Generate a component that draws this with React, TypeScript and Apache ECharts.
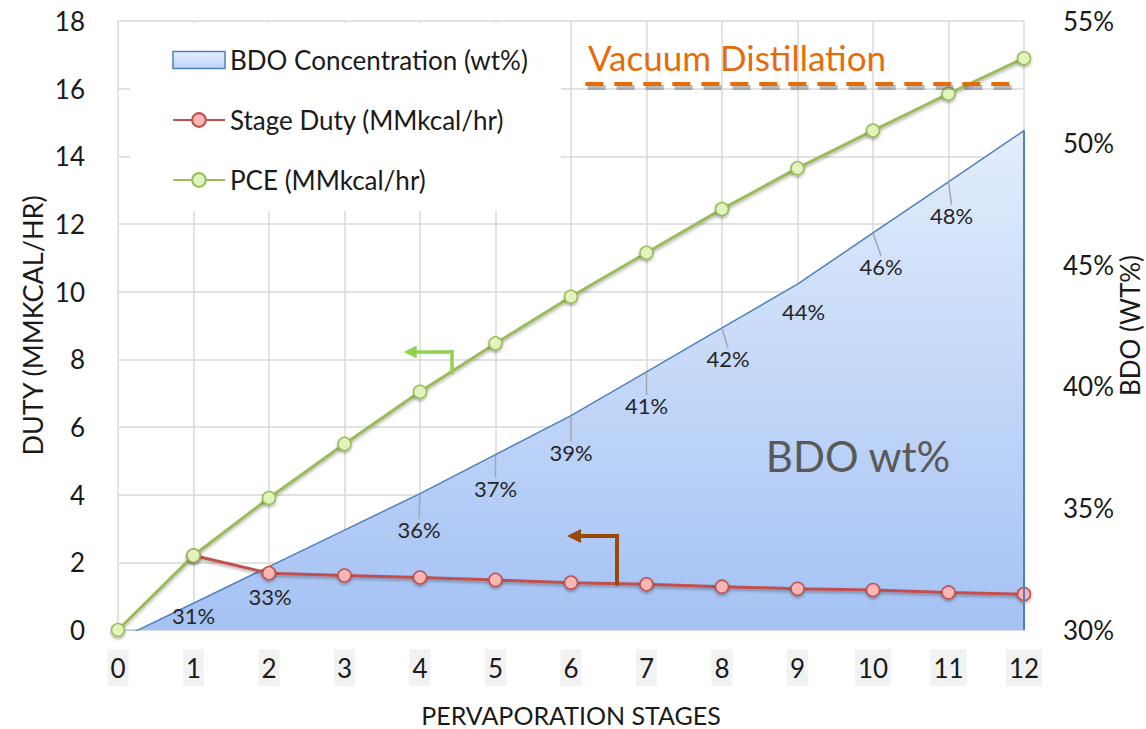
import React, { useEffect, useRef } from 'react';
import * as echarts from 'echarts';

// ---------- data ----------
const stages = [0, 1, 2, 3, 4, 5, 6, 7, 8, 9, 10, 11, 12];
const bdoConcentration = [29.6, 31.1, 32.6, 34.1, 35.6, 37.2, 38.8, 40.6, 42.4, 44.2, 46.3, 48.4, 50.5];
const bdoLabelShown = [false, true, true, false, true, true, true, true, true, true, true, true, false];
const bdoLeaderShown = [false, false, false, false, true, true, true, true, true, false, true, true, false];

const dutyStages = [1, 2, 3, 4, 5, 6, 7, 8, 9, 10, 11, 12];
const stageDuty = [2.2, 1.68, 1.61, 1.55, 1.48, 1.4, 1.35, 1.28, 1.22, 1.18, 1.11, 1.06];

const pceStages = [0, 1, 2, 3, 4, 5, 6, 7, 8, 9, 10, 11, 12];
const pce = [0, 2.2, 3.9, 5.5, 7.04, 8.47, 9.85, 11.15, 12.44, 13.65, 14.76, 15.85, 16.9];

const leftAxis = { min: 0, max: 18, interval: 2 };
const rightAxis = { min: 30, max: 55, interval: 5 };
const xAxisRange = { min: 0, max: 12, interval: 1 };

// annotation anchors (data coordinates)
const vacuumLine = { y: 16.15, shadowY: 16.05, x0: 6.19, x1: 11.95 };
const greenArrow = { x: 4.42, y0: 7.61, y1: 8.22, x2: 3.87 };
const brownArrow = { x: 6.61, y0: 1.37, y1: 2.78, x2: 6.04 };

// label offsets (style only)
const LABEL_DX = [0, 0, 1, 0, -1, 0, 0, 0, 6, 6, 8, 3, 0];
const LABEL_DY = [0, 12, 30, 0, 36, 34, 37, 34, 31, 27, 34, 34, 0];

const FONT = 'Lato';
const TXT = '#1a1a1a';
const GRID_C = '#D9D9D9';

export default function App() {
  const ref = useRef<HTMLDivElement>(null);

  useEffect(() => {
    if (!ref.current) return;
    const chart = echarts.init(ref.current, undefined, { renderer: 'svg' });

    const areaGradient = new echarts.graphic.LinearGradient(0, 0, 0, 1, [
      { offset: 0, color: '#E3EDFC' },
      { offset: 1, color: '#A3C1F4' },
    ]);
    const legendGradient = new echarts.graphic.LinearGradient(0, 0, 0, 1, [
      { offset: 0, color: '#E6EFFD' },
      { offset: 1, color: '#BCD2F8' },
    ]);

    const shadow = { shadowColor: 'rgba(0,0,0,0.3)', shadowBlur: 3, shadowOffsetY: 2 };

    const option: any = {
      animation: false,
      textStyle: { fontFamily: FONT },
      grid: { left: 118, right: 122, top: 21, bottom: 99, containLabel: false, outerBoundsMode: 'none' },
      legend: {
        orient: 'vertical',
        left: 130,
        top: 23,
        backgroundColor: '#ffffff',
        padding: [24, 33, 18, 42],
        itemWidth: 52,
        itemHeight: 17,
        itemGap: 34,
        selectedMode: false,
        textStyle: { fontSize: 26, color: TXT, fontFamily: FONT },
        data: [
          {
            name: 'BDO Concentration (wt%)',
            icon: 'rect',
            itemStyle: { color: legendGradient, borderColor: '#4F81BD', borderWidth: 1.5 },
          },
          { name: 'Stage Duty (MMkcal/hr)' },
          { name: 'PCE (MMkcal/hr)' },
        ],
      },
      xAxis: {
        type: 'value',
        min: xAxisRange.min,
        max: xAxisRange.max,
        interval: xAxisRange.interval,
        name: 'PERVAPORATION STAGES',
        nameLocation: 'middle',
        nameGap: 72,
        nameMoveOverlap: false,
        nameTextStyle: { fontSize: 25, color: TXT, fontFamily: FONT },
        axisLine: { show: true, lineStyle: { color: GRID_C, width: 1.5 } },
        axisTick: { show: false },
        axisLabel: {
          margin: 19,
          fontSize: 26,
          color: TXT,
          fontFamily: FONT,
          backgroundColor: '#F2F2F2',
          padding: [3, 3, 2, 3],
          lineHeight: 32,
        },
        splitLine: { show: true, lineStyle: { color: GRID_C, width: 1.5 } },
      },
      yAxis: [
        {
          type: 'value',
          min: leftAxis.min,
          max: leftAxis.max,
          interval: leftAxis.interval,
          name: 'DUTY (MMKCAL/HR)',
          nameLocation: 'middle',
          nameGap: 72,
          nameRotate: 90,
          nameMoveOverlap: false,
          nameTextStyle: { fontSize: 27, color: TXT, fontFamily: FONT },
          axisLine: { show: false },
          axisTick: { show: false },
          axisLabel: { margin: 33, fontSize: 26, color: TXT, fontFamily: FONT },
          splitLine: { show: true, lineStyle: { color: GRID_C, width: 1.5 } },
        },
        {
          type: 'value',
          position: 'right',
          min: rightAxis.min,
          max: rightAxis.max,
          interval: rightAxis.interval,
          name: 'BDO (WT%)',
          nameLocation: 'middle',
          nameGap: 93,
          nameRotate: 90,
          nameMoveOverlap: false,
          nameTextStyle: { fontSize: 26, color: TXT, fontFamily: FONT },
          axisLine: { show: false },
          axisTick: { show: false },
          axisLabel: { margin: 39, fontSize: 26, color: TXT, fontFamily: FONT, formatter: '{value}%' },
          splitLine: { show: false },
        },
      ],
      series: [
        {
          name: 'BDO Concentration (wt%)',
          type: 'line',
          yAxisIndex: 1,
          z: 1,
          clip: true,
          symbol: 'circle',
          symbolSize: 1,
          showSymbol: true,
          showAllSymbol: true,
          itemStyle: { color: 'rgba(0,0,0,0)', borderWidth: 0 },
          lineStyle: { color: '#4F81BD', width: 1.5 },
          areaStyle: { color: areaGradient, opacity: 1 },
          data: stages.map((s, i) => ({
            value: [s, bdoConcentration[i]],
            label: { show: bdoLabelShown[i] },
            labelLine: { show: bdoLeaderShown[i] },
          })),
          label: {
            show: false,
            position: 'inside',
            fontSize: 22,
            fontFamily: FONT,
            color: '#262626',
            padding: [9, 0, 0, 0],
            formatter: (p: any) => Math.round(p.value[1]) + '%',
          },
          labelLine: { show: false, lineStyle: { color: '#A6A6A6', width: 1.5 } },
          labelLayout: (p: any) => ({ dx: LABEL_DX[p.dataIndex], dy: LABEL_DY[p.dataIndex] }),
          markLine: {
            silent: true,
            symbol: ['none', 'none'],
            label: { show: false },
            lineStyle: { color: '#4F81BD', width: 2, type: 'solid' },
            data: [[{ coord: [stages[stages.length - 1], rightAxis.min] }, { coord: [stages[stages.length - 1], bdoConcentration[bdoConcentration.length - 1]] }]],
          },
        },
        {
          name: 'Stage Duty (MMkcal/hr)',
          type: 'line',
          z: 3,
          symbol: 'circle',
          symbolSize: 13,
          showAllSymbol: true,
          itemStyle: { color: '#F8B6B4', borderColor: '#C0504D', borderWidth: 1.5, ...shadow },
          lineStyle: { color: '#C0504D', width: 3, ...shadow },
          data: dutyStages.map((s, i) => [s, stageDuty[i]]),
          markLine: {
            silent: true,
            symbol: ['none', 'none'],
            label: { show: false },
            data: [
              [
                { coord: [brownArrow.x, brownArrow.y0], lineStyle: { color: '#984807', width: 4, type: 'solid', cap: 'square' } },
                { coord: [brownArrow.x, brownArrow.y1] },
              ],
              [
                { coord: [brownArrow.x, brownArrow.y1], lineStyle: { color: '#984807', width: 4, type: 'solid', cap: 'square' } },
                { coord: [brownArrow.x2, brownArrow.y1], symbol: 'triangle', symbolSize: [14, 14] },
              ],
            ],
          },
        },
        {
          name: 'PCE (MMkcal/hr)',
          type: 'line',
          z: 4,
          symbol: 'circle',
          symbolSize: 13,
          showAllSymbol: true,
          itemStyle: { color: '#E1F4BE', borderColor: '#9BBB59', borderWidth: 1.5, ...shadow },
          lineStyle: { color: '#9BBB59', width: 3, ...shadow },
          data: pceStages.map((s, i) => [s, pce[i]]),
          markLine: {
            silent: true,
            symbol: ['none', 'none'],
            label: { show: false },
            data: [
              [
                {
                  coord: [vacuumLine.x0 + 0.03, vacuumLine.shadowY],
                  lineStyle: { color: 'rgba(60,60,60,0.35)', width: 5, type: [18, 11] },
                },
                { coord: [vacuumLine.x1 + 0.03, vacuumLine.shadowY] },
              ],
              [
                {
                  coord: [vacuumLine.x0, vacuumLine.y],
                  lineStyle: { color: '#E46C0A', width: 4, type: [18, 11] },
                },
                { coord: [vacuumLine.x1, vacuumLine.y] },
              ],
              [
                { coord: [greenArrow.x, greenArrow.y0], lineStyle: { color: '#92D050', width: 3.5, type: 'solid', cap: 'square' } },
                { coord: [greenArrow.x, greenArrow.y1] },
              ],
              [
                { coord: [greenArrow.x, greenArrow.y1], lineStyle: { color: '#92D050', width: 3.5, type: 'solid', cap: 'square' } },
                { coord: [greenArrow.x2, greenArrow.y1], symbol: 'triangle', symbolSize: [13, 13] },
              ],
            ],
          },
        },
      ],
      graphic: [
        {
          type: 'text',
          x: 588,
          y: 57,
          z: 10,
          style: { text: 'Vacuum Distillation', fill: '#E46C0A', font: `35px ${FONT}`, align: 'left', verticalAlign: 'middle' },
        },
        {
          type: 'text',
          x: 858,
          y: 456,
          z: 10,
          style: { text: 'BDO wt%', fill: '#595959', font: `42px ${FONT}`, align: 'center', verticalAlign: 'middle' },
        },
      ],
    };

    chart.setOption(option);
    return () => chart.dispose();
  }, []);

  return (
    <div
      ref={ref}
      style={{ position: 'fixed', left: 0, top: 0, width: 1146, height: 729, background: '#ffffff' }}
    />
  );
}
